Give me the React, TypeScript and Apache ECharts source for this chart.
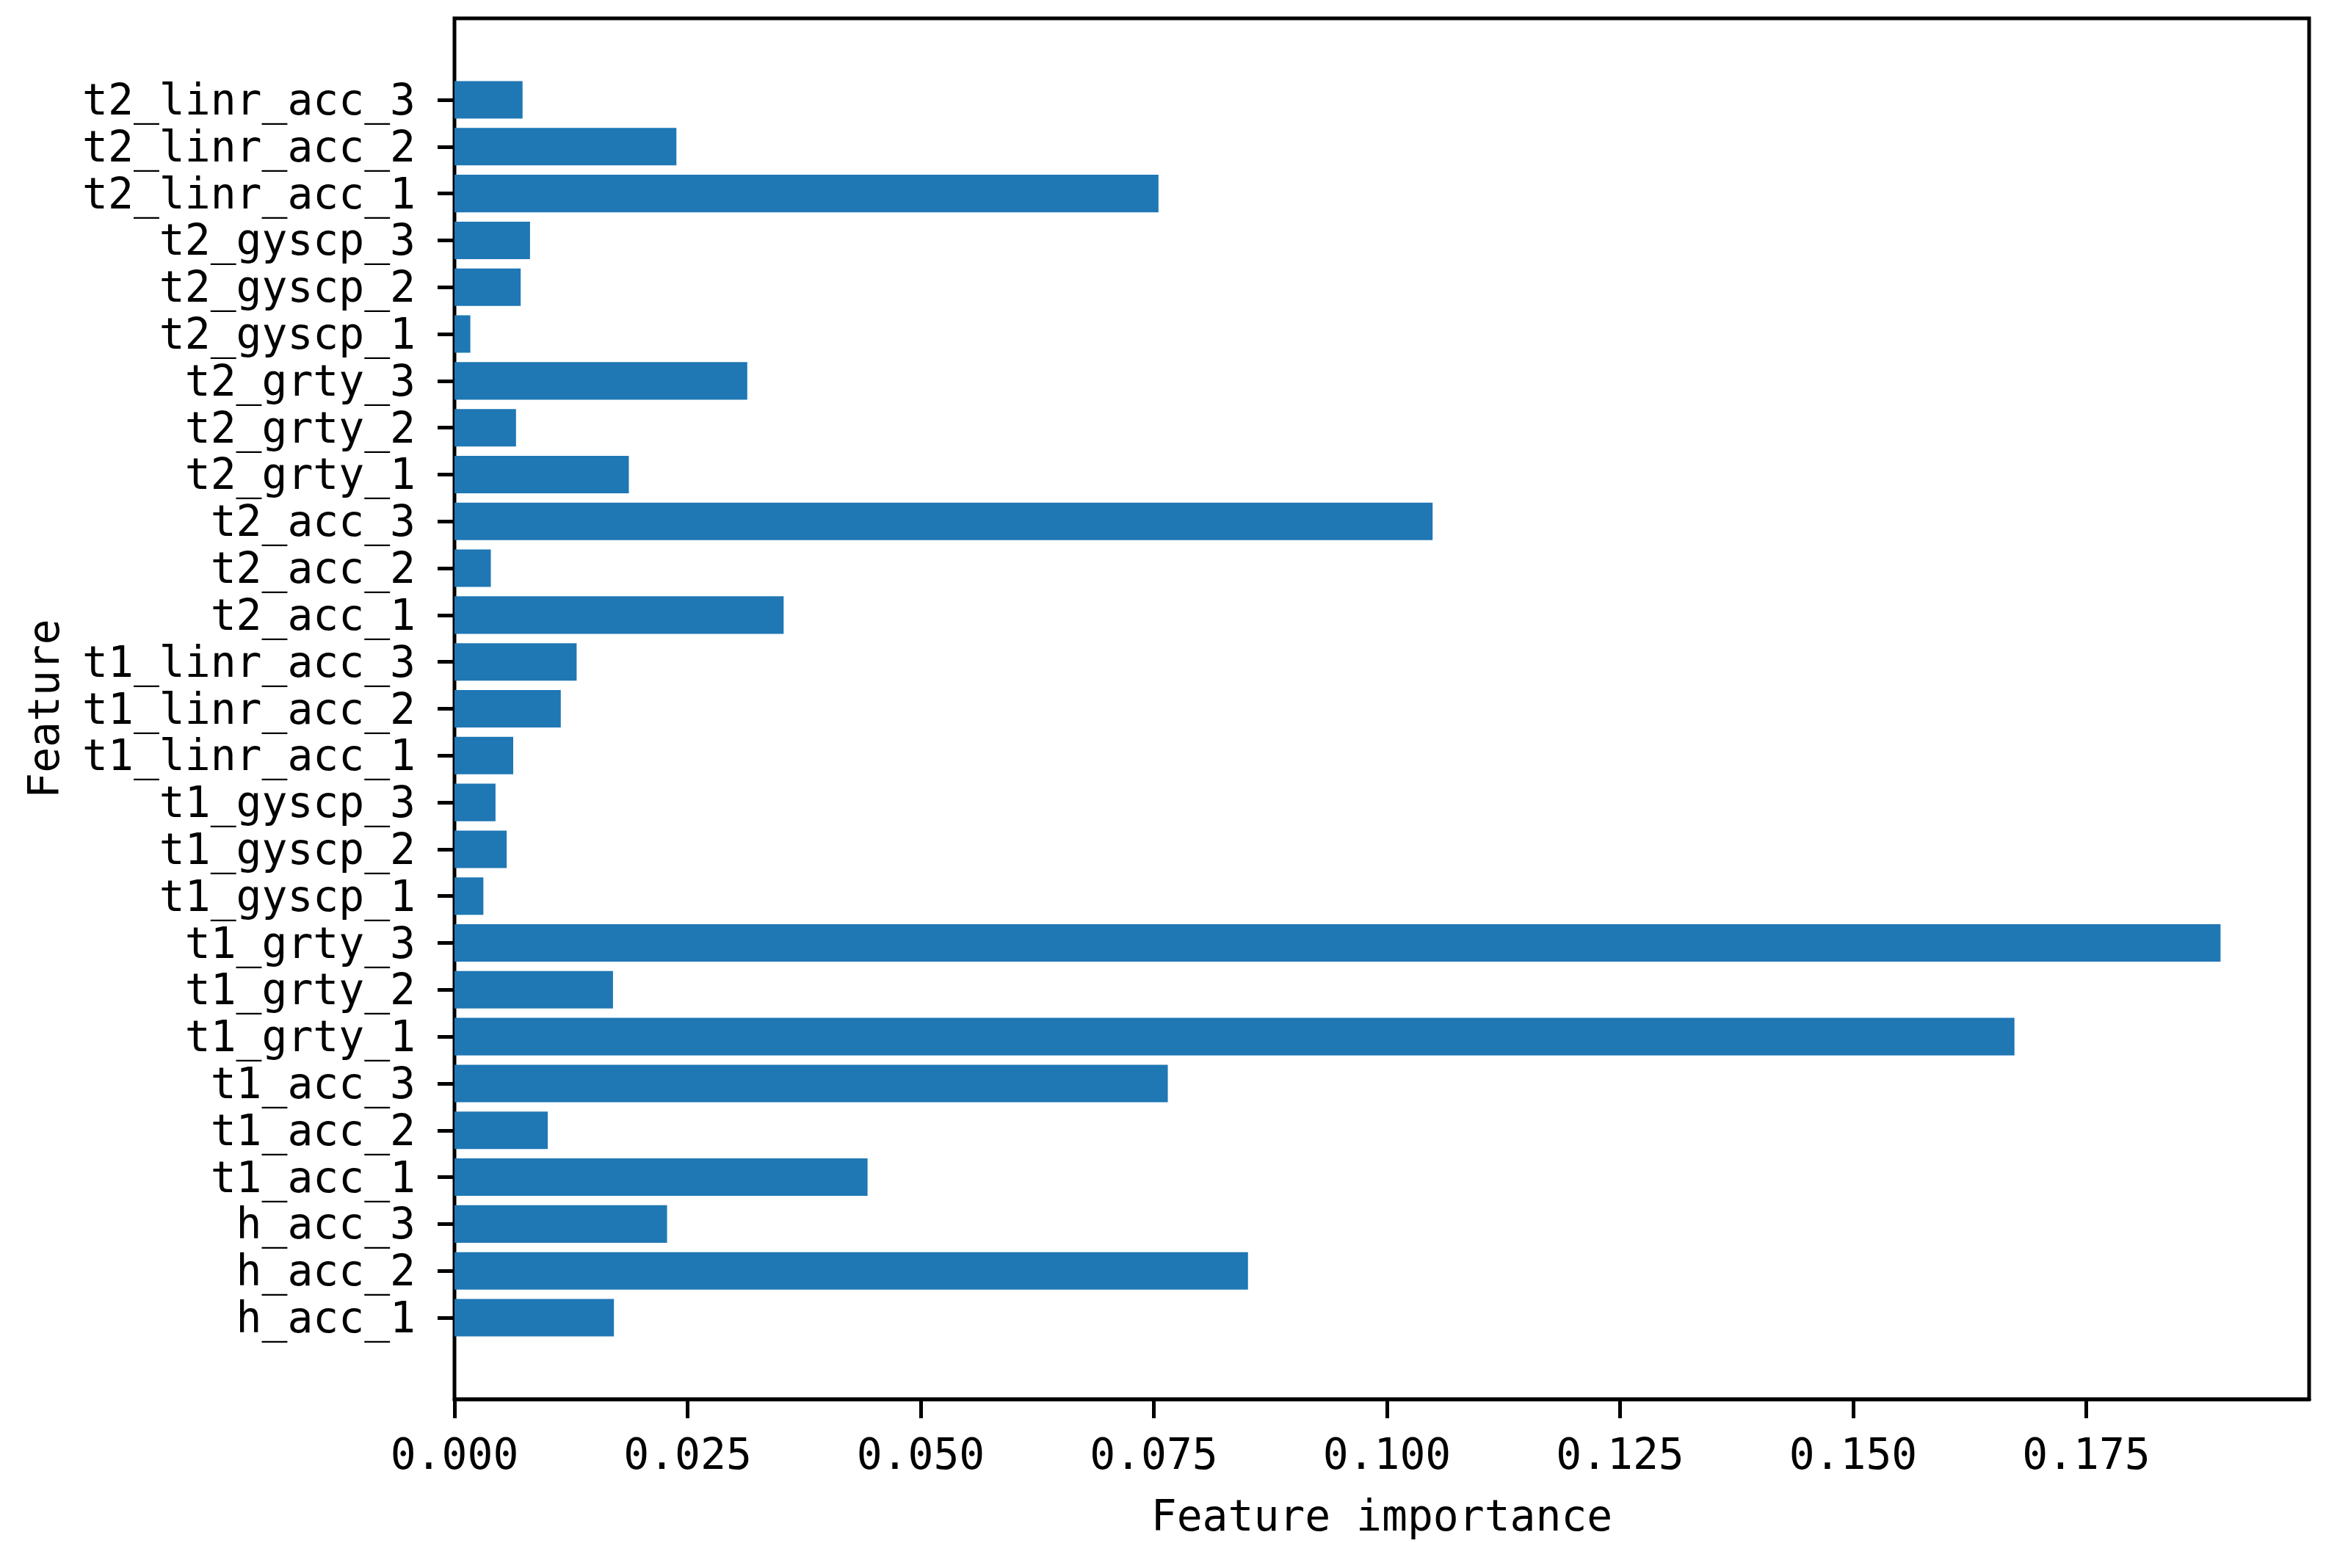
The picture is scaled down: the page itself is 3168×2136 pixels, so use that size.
import React, { useEffect, useRef } from "react";
import * as echarts from "echarts";

const features = [
  "h_acc_1", "h_acc_2", "h_acc_3",
  "t1_acc_1", "t1_acc_2", "t1_acc_3",
  "t1_grty_1", "t1_grty_2", "t1_grty_3",
  "t1_gyscp_1", "t1_gyscp_2", "t1_gyscp_3",
  "t1_linr_acc_1", "t1_linr_acc_2", "t1_linr_acc_3",
  "t2_acc_1", "t2_acc_2", "t2_acc_3",
  "t2_grty_1", "t2_grty_2", "t2_grty_3",
  "t2_gyscp_1", "t2_gyscp_2", "t2_gyscp_3",
  "t2_linr_acc_1", "t2_linr_acc_2", "t2_linr_acc_3",
];

const importance = [
  0.0171, 0.0851, 0.0228,
  0.0443, 0.0100, 0.0765,
  0.1673, 0.0170, 0.1894,
  0.0031, 0.0056, 0.0044,
  0.0063, 0.0114, 0.0131,
  0.0353, 0.0039, 0.1049,
  0.0187, 0.0066, 0.0314,
  0.0017, 0.0071, 0.0081,
  0.0755, 0.0238, 0.0073,
];

const xMin = 0;
const xMax = 0.1989;
const xInterval = 0.025;

const FONT = "'DejaVu Sans Mono', monospace";

export default function App() {
  const ref = useRef<HTMLDivElement>(null);
  useEffect(() => {
    if (!ref.current) return;
    const chart = echarts.init(ref.current, null, { renderer: "svg" });
    const frameTop = 25;
    const frameLeft = 619;
    const frameW = 2526;
    const frameH = 1881;
    const unit = frameH / 29.48;
    const innerTop = frameTop + 1.24 * unit;
    const innerH = 27 * unit;
    chart.setOption({
      animation: false,
      backgroundColor: "#ffffff",
      grid: [
        {
          left: frameLeft, top: frameTop, width: frameW, height: frameH,
          show: true, borderColor: "#000", borderWidth: 5, backgroundColor: "transparent",
        },
        { left: frameLeft, top: innerTop, width: frameW, height: innerH },
      ],
      xAxis: [
        {
          type: "value", gridIndex: 0, min: xMin, max: xMax, interval: xInterval,
          splitLine: { show: false },
          axisLine: { show: true, lineStyle: { color: "#000", width: 5 } },
          axisTick: { show: true, length: 26, lineStyle: { color: "#000", width: 5 } },
          axisLabel: {
            show: true, margin: 46, fontFamily: FONT, fontSize: 58, color: "#000",
            formatter: (v: number) => v.toFixed(3),
            showMaxLabel: false,
          },
          name: "Feature importance", nameLocation: "middle", nameGap: 130,
          nameTextStyle: { fontFamily: FONT, fontSize: 58, color: "#000" },
        },
        {
          type: "value", gridIndex: 1, min: xMin, max: xMax, interval: xInterval,
          show: false, splitLine: { show: false },
        },
      ],
      yAxis: [
        { type: "value", gridIndex: 0, show: false, splitLine: { show: false } },
        {
          type: "category", gridIndex: 1, data: features,
          axisLine: { show: false },
          axisTick: { show: true, alignWithLabel: true, interval: 0, length: 23, lineStyle: { color: "#000", width: 5 } },
          axisLabel: { interval: 0, margin: 53, fontFamily: FONT, fontSize: 58, color: "#000" },
          name: "Feature", nameLocation: "middle", nameGap: 530, nameRotate: 90,
          nameTextStyle: { fontFamily: FONT, fontSize: 58, color: "#000" },
        },
      ],
      series: [
        {
          type: "bar", xAxisIndex: 1, yAxisIndex: 1, data: importance,
          barCategoryGap: "20%", itemStyle: { color: "#1f77b4" },
        },
      ],
    });
    return () => chart.dispose();
  }, []);
  return (
    <div
      ref={ref}
      style={{ position: "fixed", left: 0, top: 0, width: 3168, height: 2136, background: "#fff" }}
    />
  );
}
